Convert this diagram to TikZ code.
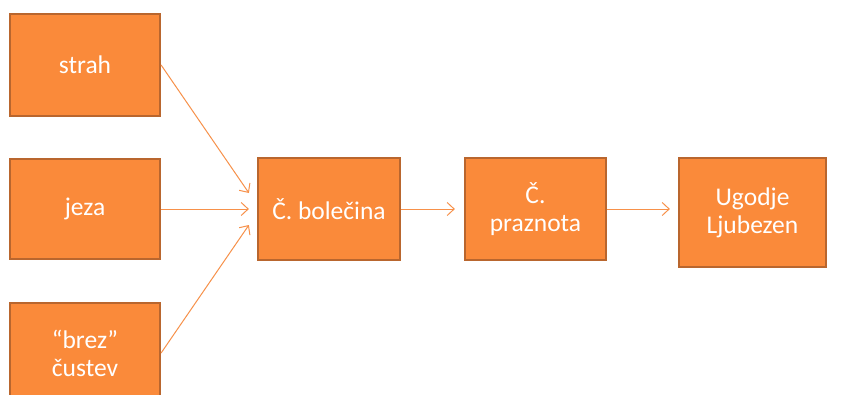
\documentclass[tikz,border=0pt]{standalone}
\usepackage{fontspec}
\setmainfont{Carlito}
\usetikzlibrary{arrows.meta}
\definecolor{boxfill}{HTML}{FA8A3A}
\definecolor{boxedge}{HTML}{B9662E}
\definecolor{arrowcol}{HTML}{F7914A}
\begin{document}
\begin{tikzpicture}[x=1pt,y=-1pt,
  box/.style={draw=boxedge, line width=2.2pt, fill=boxfill, text=white,
    align=center, inner sep=0pt, font=\fontsize{25.5}{28}\selectfont},
  arr/.style={draw=arrowcol, line width=1pt,
    -{Straight Barb[length=7pt,width=13pt,line width=1pt]}}]
\useasboundingbox (0,0) rectangle (842,394);
\clip (0,0) rectangle (842,394);
\fill[white] (0,0) rectangle (842,394);
% source states on the left
\node[box, minimum width=150pt, minimum height=102pt] (strah) at (85,65) {strah};
\node[box, minimum width=150pt, minimum height=100pt] (jeza) at (85,209) {jeza};
\node[box, minimum width=150pt, minimum height=100pt] (brez) at (85,353) {“brez”\\čustev};
% main chain
\node[box, minimum width=142pt, minimum height=102pt] (bol) at (329,209) {Č. bolečina};
\node[box, minimum width=141pt, minimum height=102pt] (praz) at (535.5,209) {Č.\\praznota};
\node[box, minimum width=147pt, minimum height=109pt] (ugod) at (752.5,212.5) {Ugodje\\Ljubezen};
% connectors
\draw[arr] (strah.east) -- ([xshift=-8pt,yshift=16pt]bol.west);
\draw[arr] (jeza.east) -- ([xshift=-8pt]bol.west);
\draw[arr] (brez.east) -- ([xshift=-8pt,yshift=-16pt]bol.west);
\draw[arr] (bol.east) -- ([xshift=-9pt]praz.west);
\draw[arr] (praz.east) -- ([xshift=-8pt,yshift=3.5pt]ugod.west);
\end{tikzpicture}
\end{document}
